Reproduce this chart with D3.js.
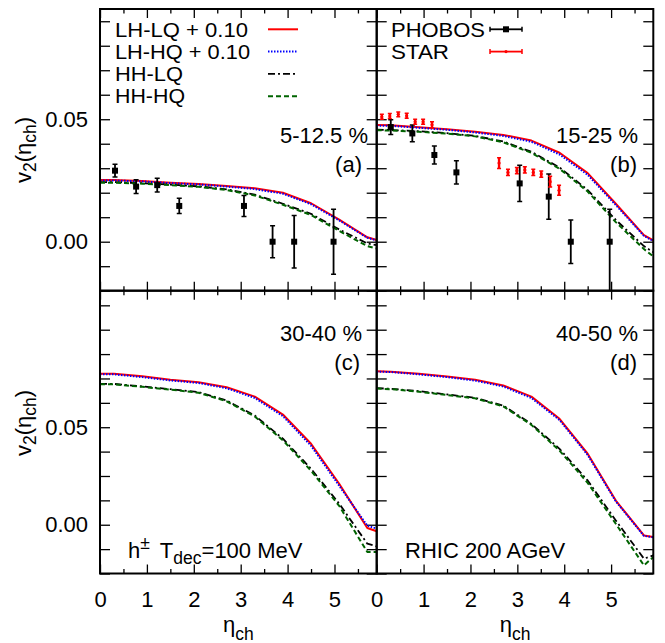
<!DOCTYPE html>
<html><head><meta charset="utf-8">
<script src="https://cdn.jsdelivr.net/npm/d3@7"></script>
<style>
body{margin:0;background:#fff}
svg{display:block}
text{font-family:"Liberation Sans",Arial,Helvetica,sans-serif;fill:#000}
</style>
</head><body>
<svg id="chart" width="665" height="643"></svg>
<script>
// ---------------- data ----------------
const etaGrid = [0, 0.3, 0.9, 1.5, 2.1, 2.7, 3.3, 3.9, 4.5, 5.1, 5.7, 5.9];

// panel (a) 5-12.5 %
const lhlqA = [0.0252, 0.0252, 0.0248, 0.0241, 0.0236, 0.0227, 0.0218, 0.0200, 0.0157, 0.0090, 0.0018, 0.0007];
const lhhqA = [0.0250, 0.0250, 0.0246, 0.0239, 0.0234, 0.0225, 0.0215, 0.0196, 0.0153, 0.0087, 0.0016, 0.0005];
const hhlqA = [0.0243, 0.0243, 0.0239, 0.0233, 0.0226, 0.0214, 0.0192, 0.0155, 0.0114, 0.0050, -0.0007, -0.0014];
const hhhqA = [0.0241, 0.0241, 0.0237, 0.0231, 0.0224, 0.0211, 0.0189, 0.0151, 0.0109, 0.0044, -0.0018, -0.0028];

// panel (b) 15-25 %
const lhlqB = [0.0476, 0.0475, 0.0467, 0.0459, 0.0449, 0.0436, 0.0413, 0.0363, 0.0280, 0.0155, 0.0027, 0.0005];
const lhhqB = [0.0474, 0.0473, 0.0465, 0.0457, 0.0446, 0.0432, 0.0408, 0.0356, 0.0273, 0.0150, 0.0024, 0.0003];
const hhlqB = [0.0457, 0.0456, 0.0451, 0.0443, 0.0432, 0.0409, 0.0367, 0.0303, 0.0211, 0.0089, -0.0018, -0.0043];
const hhhqB = [0.0455, 0.0454, 0.0449, 0.0441, 0.0430, 0.0406, 0.0363, 0.0298, 0.0205, 0.0080, -0.0030, -0.0060];

// panel (c) 30-40 %
const lhlqC = [0.0774, 0.0774, 0.0761, 0.0744, 0.0731, 0.0705, 0.0657, 0.0565, 0.0415, 0.0210, -0.0017, -0.0033];
const lhhqC = [0.0771, 0.0771, 0.0757, 0.0740, 0.0727, 0.0700, 0.0650, 0.0557, 0.0405, 0.0200, -0.0005, -0.0020];
const hhlqC = [0.0722, 0.0722, 0.0709, 0.0695, 0.0680, 0.0637, 0.0560, 0.0441, 0.0287, 0.0108, -0.0097, -0.0111];
const hhhqC = [0.0720, 0.0720, 0.0707, 0.0693, 0.0677, 0.0633, 0.0555, 0.0433, 0.0277, 0.0097, -0.0140, -0.0140];

// panel (d) 40-50 %
const lhlqD = [0.0787, 0.0785, 0.0774, 0.0760, 0.0743, 0.0714, 0.0657, 0.0543, 0.0364, 0.0124, -0.0055, -0.0063];
const lhhqD = [0.0785, 0.0783, 0.0771, 0.0757, 0.0739, 0.0709, 0.0650, 0.0537, 0.0358, 0.0120, -0.0057, -0.0065];
const hhlqD = [0.0700, 0.0697, 0.0685, 0.0668, 0.0651, 0.0611, 0.0517, 0.0389, 0.0227, 0.0022, -0.0174, -0.0157];
const hhhqD = [0.0698, 0.0695, 0.0682, 0.0665, 0.0648, 0.0607, 0.0512, 0.0380, 0.0215, 0.0005, -0.0208, -0.0166];

// PHOBOS data
const phobosEtaA = [0.32, 0.77, 1.22, 1.69, 3.07, 3.68, 4.14, 4.98];
const phobosV2A  = [0.0290, 0.0225, 0.0231, 0.0146, 0.0146, 0.0, 0.0, 0.0];
const phobosErrA = [0.0026, 0.0028, 0.0028, 0.0031, 0.0043, 0.0065, 0.0107, 0.0133];

const phobosEtaB   = [0.30, 0.76, 1.23, 1.70, 3.05, 3.67, 4.14, 4.97];
const phobosV2B    = [0.0468, 0.0442, 0.0354, 0.0283, 0.0238, 0.0184, 0.0, 0.0];
const phobosErrHiB = [0.0030, 0.0034, 0.0037, 0.0047, 0.0074, 0.0092, 0.0089, 0.0132];
const phobosErrLoB = [0.0030, 0.0034, 0.0037, 0.0047, 0.0074, 0.0092, 0.0089, 0.0250];

// STAR data (panel b)
const starEta = [0.11, 0.28, 0.46, 0.64, 0.82, 0.99, 1.18, 2.61, 2.80, 2.99, 3.16, 3.34, 3.51, 3.70, 3.89];
const starV2  = [0.0510, 0.0513, 0.0520, 0.0514, 0.0490, 0.0490, 0.0477, 0.0321, 0.0283, 0.0290, 0.0293, 0.0283, 0.0276, 0.0245, 0.0210];
const starErr = [0.0010, 0.0010, 0.0010, 0.0010, 0.0010, 0.0010, 0.0013, 0.0022, 0.0013, 0.0013, 0.0013, 0.0013, 0.0013, 0.0022, 0.0020];

// axes / labels
const xDomain = [0, 5.9];
const yDomainTop = [-0.02, 0.095];
const yDomainBottom = [-0.025, 0.12];
const xMajorTicks = [0, 1, 2, 3, 4, 5];
const xTickLabels = ["0", "1", "2", "3", "4", "5"];
const xMinorTicks = [0.5, 1.5, 2.5, 3.5, 4.5, 5.5];
const yTicksTop = [-0.02, -0.01, 0, 0.01, 0.02, 0.03, 0.04, 0.05, 0.06, 0.07, 0.08, 0.09];
const yTicksBottom = [-0.025, -0.0125, 0, 0.0125, 0.025, 0.0375, 0.05, 0.0625, 0.075, 0.0875, 0.1, 0.1125];
const yLabelValues = [0, 0.05];
const yTickLabels = ["0.00", "0.05"];
const seriesNames = ["LH-LQ + 0.10", "LH-HQ + 0.10", "HH-LQ", "HH-HQ"];
const dataNames = ["PHOBOS", "STAR"];
const centralityLabels = ["5-12.5 %", "15-25 %", "30-40 %", "40-50 %"];
const panelTags = ["(a)", "(b)", "(c)", "(d)"];

// ---------------- layout ----------------
const svg = d3.select("#chart");
const X0 = 100, XM = 376.7, X1 = 653.3;
const Y0 = 9, YM = 290.7, Y1 = 573.5;
const FONT = 22, SUB = 17.5, LEGFONT = 19.8;

const xLeft = d3.scaleLinear().domain(xDomain).range([X0, XM]);
const xRight = d3.scaleLinear().domain(xDomain).range([XM, X1]);
const yTop = d3.scaleLinear().domain(yDomainTop).range([YM, Y0]);
const yBot = d3.scaleLinear().domain(yDomainBottom).range([Y1, YM]);

const styles = [
  {color: "#ff0000", width: 2, dash: null},
  {color: "#0000ff", width: 2, dash: "1.5,1.5"},
  {color: "#000000", width: 1.8, dash: "7,3,2,3"},
  {color: "#006400", width: 2, dash: "5,3"}
];

const panels = [
  {id: "a", x: xLeft, y: yTop, yTicks: yTicksTop, series: [lhlqA, lhhqA, hhlqA, hhhqA], yLab: true, xLab: false},
  {id: "b", x: xRight, y: yTop, yTicks: yTicksTop, series: [lhlqB, lhhqB, hhlqB, hhhqB], yLab: false, xLab: false},
  {id: "c", x: xLeft, y: yBot, yTicks: yTicksBottom, series: [lhlqC, lhhqC, hhlqC, hhhqC], yLab: true, xLab: true},
  {id: "d", x: xRight, y: yBot, yTicks: yTicksBottom, series: [lhlqD, lhhqD, hhlqD, hhhqD], yLab: false, xLab: true}
];

const defs = svg.append("defs");

function styleAxis(g) {
  g.select(".domain").remove();
  g.selectAll(".tick line").attr("stroke", "#000").attr("stroke-width", 1.3);
  g.selectAll("text").attr("font-size", FONT).attr("font-family", '"Liberation Sans",Arial,sans-serif').attr("fill", "#000");
}

panels.forEach((p, pi) => {
  const [xa, xb] = p.x.range();
  const [yb, ya] = p.y.range();
  const g = svg.append("g");

  defs.append("clipPath").attr("id", "clip" + p.id)
    .append("rect").attr("x", xa).attr("y", ya).attr("width", xb - xa).attr("height", yb - ya);

  const fmtY = d => {
    if (!p.yLab) return "";
    const k = yLabelValues.findIndex(v => Math.abs(v - d) < 1e-9);
    return k >= 0 ? yTickLabels[k] : "";
  };
  g.append("g").attr("transform", `translate(${xa},0)`)
    .call(d3.axisLeft(p.y).tickValues(p.yTicks).tickSizeInner(-10).tickSizeOuter(0).tickPadding(12).tickFormat(fmtY))
    .call(styleAxis);
  g.append("g").attr("transform", `translate(${xb},0)`)
    .call(d3.axisRight(p.y).tickValues(p.yTicks).tickSizeInner(-10).tickSizeOuter(0).tickFormat(() => ""))
    .call(styleAxis);
  g.append("g").attr("transform", `translate(0,${yb})`)
    .call(d3.axisBottom(p.x).tickValues(xMajorTicks).tickSizeInner(-9).tickSizeOuter(0).tickPadding(18)
      .tickFormat((d, i) => p.xLab ? xTickLabels[i] : ""))
    .call(styleAxis);
  g.append("g").attr("transform", `translate(0,${yb})`)
    .call(d3.axisBottom(p.x).tickValues(xMinorTicks).tickSizeInner(-4.5).tickSizeOuter(0).tickFormat(() => ""))
    .call(styleAxis);
  g.append("g").attr("transform", `translate(0,${ya})`)
    .call(d3.axisTop(p.x).tickValues(xMajorTicks).tickSizeInner(-9).tickSizeOuter(0).tickFormat(() => ""))
    .call(styleAxis);
  g.append("g").attr("transform", `translate(0,${ya})`)
    .call(d3.axisTop(p.x).tickValues(xMinorTicks).tickSizeInner(-4.5).tickSizeOuter(0).tickFormat(() => ""))
    .call(styleAxis);

  const cg = g.append("g").attr("clip-path", `url(#clip${p.id})`);
  const line = d3.line().x(d => p.x(d[0])).y(d => p.y(d[1]));
  p.series.forEach((vals, si) => {
    const st = styles[si];
    cg.append("path")
      .datum(etaGrid.map((e, i) => [e, vals[i]]))
      .attr("d", line)
      .attr("fill", "none")
      .attr("stroke", st.color)
      .attr("stroke-width", st.width)
      .attr("stroke-dasharray", st.dash)
      .attr("stroke-linejoin", "round");
  });

  const tx1 = pi % 2 === 0 ? (pi === 0 ? 368 : 362) : 638;
  const tx2 = pi % 2 === 0 ? (pi === 0 ? 362 : 360) : 637;
  const ty1 = pi < 2 ? 143 : 341;
  const ty2 = pi < 2 ? 172 : 370;
  g.append("text").attr("x", tx1).attr("y", ty1).attr("text-anchor", "end").attr("font-size", FONT).text(centralityLabels[pi]);
  g.append("text").attr("x", tx2).attr("y", ty2).attr("text-anchor", "end").attr("font-size", FONT).text(panelTags[pi]);

  g.append("rect").attr("x", xa).attr("y", ya).attr("width", xb - xa).attr("height", yb - ya)
    .attr("fill", "none").attr("stroke", "#000").attr("stroke-width", 2);

  p.g = g; p.cg = cg;
});

// ---------------- data points ----------------
function phobos(p, eta, v, lo, hi) {
  const dg = p.cg.append("g");
  eta.forEach((e, i) => {
    const cx = p.x(e);
    const yl = p.y(v[i] - lo[i]), yh = p.y(v[i] + hi[i]);
    dg.append("line").attr("x1", cx).attr("x2", cx).attr("y1", yl).attr("y2", yh).attr("stroke", "#000").attr("stroke-width", 1.8);
    dg.append("line").attr("x1", cx - 2.5).attr("x2", cx + 2.5).attr("y1", yl).attr("y2", yl).attr("stroke", "#000").attr("stroke-width", 1.5);
    dg.append("line").attr("x1", cx - 2.5).attr("x2", cx + 2.5).attr("y1", yh).attr("y2", yh).attr("stroke", "#000").attr("stroke-width", 1.5);
    dg.append("rect").attr("x", cx - 3).attr("y", p.y(v[i]) - 3).attr("width", 6).attr("height", 6).attr("fill", "#000");
  });
}
phobos(panels[0], phobosEtaA, phobosV2A, phobosErrA, phobosErrA);
phobos(panels[1], phobosEtaB, phobosV2B, phobosErrLoB, phobosErrHiB);

(function star(p) {
  const dg = p.cg.append("g");
  starEta.forEach((e, i) => {
    const cx = p.x(e);
    const yl = p.y(starV2[i] - starErr[i]), yh = p.y(starV2[i] + starErr[i]);
    dg.append("line").attr("x1", cx).attr("x2", cx).attr("y1", yl).attr("y2", yh).attr("stroke", "#ff0000").attr("stroke-width", 2.4);
    dg.append("line").attr("x1", cx - 2).attr("x2", cx + 2).attr("y1", yl).attr("y2", yl).attr("stroke", "#ff0000").attr("stroke-width", 1.5);
    dg.append("line").attr("x1", cx - 2).attr("x2", cx + 2).attr("y1", yh).attr("y2", yh).attr("stroke", "#ff0000").attr("stroke-width", 1.5);
    dg.append("circle").attr("cx", cx).attr("cy", p.y(starV2[i])).attr("r", 1.6).attr("fill", "#ff0000");
  });
})(panels[1]);

// ---------------- legends ----------------
const legendWidths = [133, 135, 68, 70];
seriesNames.forEach((name, i) => {
  const ly = 29.3 + 22.3 * i;
  svg.append("text").attr("x", 115).attr("y", ly + 7.2).attr("font-size", LEGFONT)
    .attr("textLength", legendWidths[i]).attr("lengthAdjust", "spacingAndGlyphs").text(name);
  const st = styles[i];
  svg.append("line").attr("x1", 268).attr("x2", 298).attr("y1", ly).attr("y2", ly)
    .attr("stroke", st.color).attr("stroke-width", st.width).attr("stroke-dasharray", st.dash);
});
const dataColors = ["#000", "#ff0000"];
const dataLegendWidths = [94, 58];
dataNames.forEach((name, i) => {
  const col = dataColors[i];
  const ly = 29.3 + 22.3 * i;
  svg.append("text").attr("x", 391).attr("y", ly + 7.2).attr("font-size", LEGFONT)
    .attr("textLength", dataLegendWidths[i]).attr("lengthAdjust", "spacingAndGlyphs").text(name);
  svg.append("line").attr("x1", 490).attr("x2", 522).attr("y1", ly).attr("y2", ly).attr("stroke", col).attr("stroke-width", 1.8);
  [490, 522].forEach(cx => svg.append("line").attr("x1", cx).attr("x2", cx).attr("y1", ly - 2.5).attr("y2", ly + 2.5).attr("stroke", col).attr("stroke-width", 1.5));
  if (i === 0) svg.append("rect").attr("x", 503).attr("y", ly - 3).attr("width", 6).attr("height", 6).attr("fill", col);
  else svg.append("circle").attr("cx", 506).attr("cy", ly).attr("r", 1.6).attr("fill", col);
});

// ---------------- axis titles ----------------
function yTitle(cy) {
  const t = svg.append("text").attr("transform", `translate(31,${cy}) rotate(-90)`).attr("text-anchor", "middle").attr("font-size", FONT);
  t.append("tspan").text("v");
  t.append("tspan").attr("font-size", SUB).attr("dy", 5).text("2");
  t.append("tspan").attr("dy", -5).text("(η");
  t.append("tspan").attr("font-size", SUB).attr("dy", 5).text("ch");
  t.append("tspan").attr("dy", -5).text(")");
}
yTitle(150);
yTitle(423);

function xTitle(cx) {
  const t = svg.append("text").attr("x", cx).attr("y", 632).attr("text-anchor", "middle").attr("font-size", FONT);
  t.append("tspan").text("η");
  t.append("tspan").attr("font-size", SUB).attr("dy", 8).text("ch");
}
xTitle((X0 + XM) / 2);
xTitle((XM + X1) / 2);

// annotations
const ann1 = svg.append("text").attr("x", 128).attr("y", 558).attr("font-size", FONT);
ann1.append("tspan").text("h");
ann1.append("tspan").attr("font-size", SUB).attr("dy", -9).text("±");
ann1.append("tspan").attr("dy", 9).attr("dx", 10).text("T");
ann1.append("tspan").attr("font-size", SUB).attr("dy", 6).text("dec");
ann1.append("tspan").attr("dy", -6).text("=100 MeV");
svg.append("text").attr("x", 405).attr("y", 558).attr("font-size", FONT).text("RHIC 200 AGeV");
</script>
</body></html>
